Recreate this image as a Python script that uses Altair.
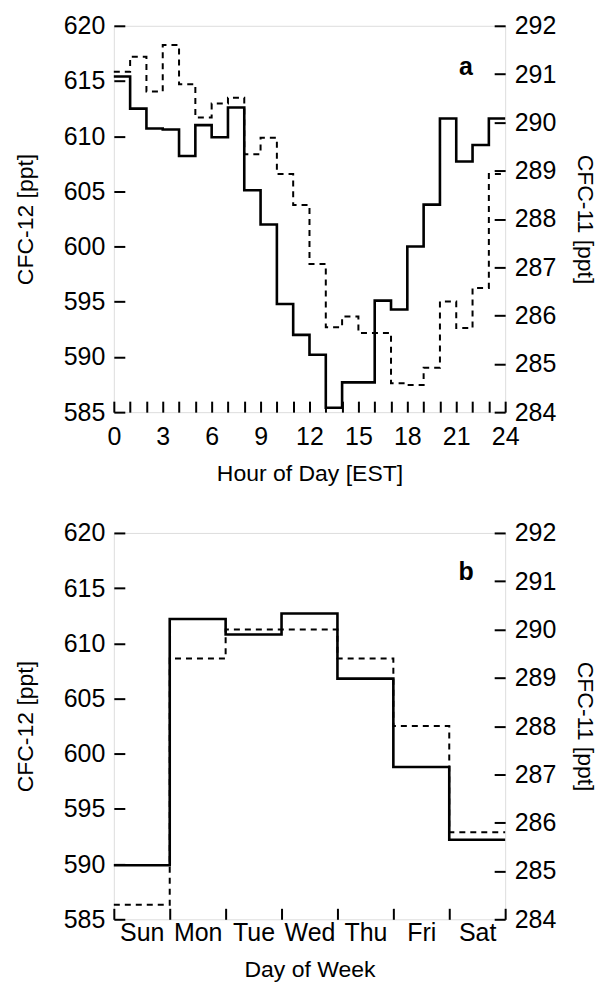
import altair as alt
import pandas as pd

# ---- data ----
hours = list(range(24))
cfc12_hour = [615.4, 612.5, 610.7, 610.6, 608.2, 611.0, 609.9, 612.6, 605.1, 602.0,
              594.8, 592.0, 590.2, 585.4, 587.7, 587.7, 595.1, 594.3, 600.0, 603.8,
              611.6, 607.7, 609.2, 611.6]
cfc11_hour = [291.05, 291.36, 290.64, 291.60, 290.79, 290.10, 290.39, 290.51, 289.34, 289.68,
              288.93, 288.29, 287.07, 285.76, 285.98, 285.64, 285.64, 284.60, 284.56, 284.92,
              286.29, 285.74, 286.57, 288.93]

days = ["Sun", "Mon", "Tue", "Wed", "Thu", "Fri", "Sat"]
cfc12_day = [589.9, 612.2, 610.8, 612.7, 606.8, 598.8, 592.2]
cfc11_day = [284.3, 289.4, 290.0, 290.0, 289.4, 288.0, 285.8]

hour_ticks = list(range(0, 25))
day_ticks = list(range(0, 8))
left_ticks = [585, 590, 595, 600, 605, 610, 615, 620]
right_ticks = [284, 285, 286, 287, 288, 289, 290, 291, 292]

panel_labels = ["a", "b"]
panel_label_x = [21.6, 6.3]
panel_label_y = [616.3, 616.5]

FONT = "Liberation Sans"
W, H = 392, 387
TICK = 11
LABEL_FS = 25
TITLE_FS = 23


def step_frame(xs, ys, end):
    # step-after line needs a closing point at the right edge of the last bin
    return pd.DataFrame({"x": list(xs) + [end], "y": list(ys) + [ys[-1]]})


def yaxis(title, values, orient, title_pad):
    return alt.Axis(title=title, values=values, orient=orient, grid=False,
                    domain=False, ticks=True, tickSize=TICK, offset=-TICK,
                    tickWidth=2, tickColor="black", labelPadding=9,
                    labelFontSize=LABEL_FS, titleFontSize=TITLE_FS, labelFont=FONT,
                    titleFont=FONT, labelColor="black", titleColor="black",
                    titleFontWeight="normal", titlePadding=title_pad)


left_axis = yaxis("CFC-12 [ppt]", left_ticks, "left", 26)
right_axis = yaxis("CFC-11 [ppt]", right_ticks, "right", 17)


def panel(xs, y12, y11, end, xaxis, label, lx, ly):
    df12 = step_frame(xs, y12, end)
    df11 = step_frame(xs, y11, end)
    xscale = alt.Scale(domain=[0, end], nice=False, zero=False)
    left_scale = alt.Scale(domain=[585, 620], nice=False, zero=False)
    right_scale = alt.Scale(domain=[284, 292], nice=False, zero=False)
    xenc = alt.X("x:Q", scale=xscale, axis=xaxis)

    solid = alt.Chart(df12).mark_line(interpolate="step-after", color="black",
                                      strokeWidth=2.6).encode(
        x=xenc,
        y=alt.Y("y:Q", scale=left_scale, axis=left_axis),
    )
    txt = alt.Chart(pd.DataFrame({"x": [lx], "y": [ly], "t": [label]})).mark_text(
        fontSize=25, fontWeight="bold", font=FONT, color="black",
        align="center", baseline="middle").encode(
        x=xenc,
        y=alt.Y("y:Q", scale=left_scale, axis=left_axis),
        text="t:N",
    )
    dashed = alt.Chart(df11).mark_line(interpolate="step-after", color="black",
                                       strokeWidth=2, strokeDash=[6, 5]).encode(
        x=xenc,
        y=alt.Y("y:Q", scale=right_scale, axis=right_axis),
    )
    return alt.layer(alt.layer(solid, txt), dashed).resolve_scale(y="independent").properties(
        width=W, height=H)


def xaxis_kw(label_pad, title_pad):
    return dict(grid=False, domain=False, ticks=True, tickSize=TICK, offset=-TICK,
                tickWidth=2, tickColor="black", labelPadding=label_pad, labelFlush=False,
                labelOverlap=False, labelFontSize=LABEL_FS, titleFontSize=TITLE_FS,
                labelFont=FONT, titleFont=FONT, labelColor="black", titleColor="black",
                titleFontWeight="normal", titlePadding=title_pad)


xa = alt.Axis(title="Hour of Day [EST]", values=hour_ticks,
              labelExpr="datum.value % 3 === 0 ? datum.label : ''", **xaxis_kw(12, 13))
xb = alt.Axis(title="Day of Week", values=day_ticks, labelOffset=28,
              labelExpr="datum.value < 7 ? " + str(days) + "[datum.value] : ''",
              **xaxis_kw(1, 13))

pa = panel(hours, cfc12_hour, cfc11_hour, 24, xa, panel_labels[0], panel_label_x[0], panel_label_y[0])
pb = panel(list(range(7)), cfc12_day, cfc11_day, 7, xb, panel_labels[1], panel_label_x[1], panel_label_y[1])

chart = alt.vconcat(pa, pb, spacing=34).properties(
    padding={"left": 5, "top": 4, "right": 2, "bottom": 2}
).configure_view(stroke="black", strokeWidth=2).configure(background="white")

chart.save("out.html", embed_options={"renderer": "svg", "actions": False})
